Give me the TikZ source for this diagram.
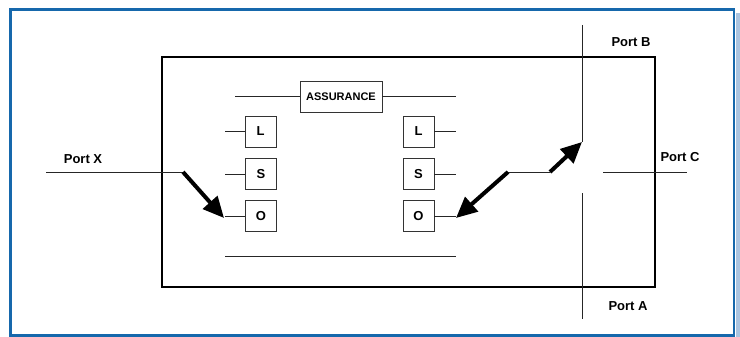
\documentclass[tikz,border=0pt]{standalone}
\usepackage{fontspec}
\setmainfont{Liberation Sans}
\usetikzlibrary{arrows.meta}
\definecolor{framecol}{RGB}{22,104,172}
\definecolor{shadecol}{RGB}{170,196,224}
\begin{document}
\begin{tikzpicture}[x=1pt,y=-1pt,
  letterbox/.style={draw=black!80, line width=0.9pt, minimum width=31pt, minimum height=31pt, inner sep=0pt, font=\fontsize{13}{15}\selectfont\bfseries},
  wire/.style={line width=0.9pt, draw=black!85},
  portlabel/.style={font=\fontsize{13}{15}\selectfont\bfseries},
  bigarrow/.style={line width=4pt, -{Triangle[length=21pt,width=19pt]}}]
\useasboundingbox (0,0) rectangle (740,337);
% frame
\fill[shadecol] (735.5,13) rectangle (740,337);
\draw[framecol, line width=2.6pt] (10.5,9.5) rectangle (733.8,335.5);
% main rectangle
\draw[line width=1.8pt] (162,57) rectangle (655,287);
% boxes
\node[letterbox, minimum width=82pt] (assur) at (341,96.5) {\fontsize{11}{13}\selectfont ASSURANCE};
\node[letterbox] (lL) at (260.5,131.5) {L};
\node[letterbox] (lS) at (261,174) {S};
\node[letterbox] (lO) at (261,216) {O};
\node[letterbox] (rL) at (418.5,131.5) {L};
\node[letterbox] (rS) at (418.5,174) {S};
\node[letterbox] (rO) at (418.5,216) {O};
% coordinates
\coordinate (aL) at (235,96.5);
\coordinate (aR) at (456,96.5);
\coordinate (lLs) at (225,131.5);
\coordinate (lSs) at (225,174);
\coordinate (lOs) at (225,216);
\coordinate (rLs) at (456,131.5);
\coordinate (rSs) at (456,174);
\coordinate (rOs) at (456,216);
\coordinate (botL) at (225,256);
\coordinate (botR) at (456,256);
\coordinate (xS) at (46,172);
\coordinate (xE) at (183,172);
\coordinate (bT) at (582,25);
\coordinate (bB) at (582,142);
\coordinate (aT) at (582,193);
\coordinate (aB) at (582,319);
\coordinate (cL) at (603,172);
\coordinate (cR) at (687,172);
\coordinate (swL) at (508,172);
\coordinate (swR) at (550,172);
% wires
\draw[wire] (aL) -- (assur.west);
\draw[wire] (assur.east) -- (aR);
\draw[wire] (lLs) -- (lL.west);
\draw[wire] (lSs) -- (lS.west);
\draw[wire] (lOs) -- (lO.west);
\draw[wire] (rL.east) -- (rLs);
\draw[wire] (rS.east) -- (rSs);
\draw[wire] (rO.east) -- (rOs);
\draw[wire] (botL) -- (botR);
\draw[wire] (xS) -- (xE);
\draw[wire] (bT) -- (bB);
\draw[wire] (aT) -- (aB);
\draw[wire] (cL) -- (cR);
\draw[wire] (swL) -- (swR);
% arrows
\draw[bigarrow] (xE) -- ([xshift=-1pt,yshift=-2pt]lOs);
\draw[bigarrow] (swR) -- (bB);
\draw[bigarrow] (swL) -- ([yshift=-2pt]rOs);
% labels
\node[portlabel] (px) at (83,159) {Port X};
\node[portlabel] (pb) at (631,42) {Port B};
\node[portlabel] (pc) at (680,157) {Port C};
\node[portlabel] (pa) at (628,306) {Port A};
\end{tikzpicture}
\end{document}
